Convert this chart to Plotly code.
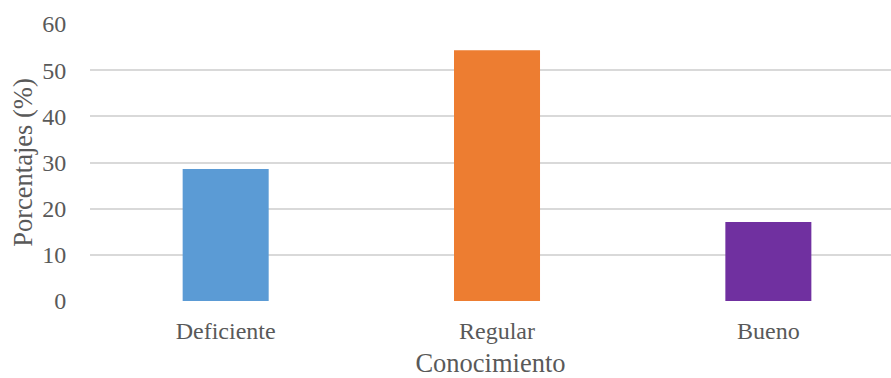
import plotly.graph_objects as go

# Categories and percentages
categorias = ["Deficiente", "Regular", "Bueno"]
porcentajes = [28.6, 54.3, 17.1]
colores = ["#5B9BD5", "#ED7D31", "#7030A0"]
y_ticks = [0, 10, 20, 30, 40, 50, 60]

TEXT = "#595959"
FONT = "Liberation Serif, Times New Roman, serif"

fig = go.Figure(
    go.Bar(
        x=categorias,
        y=porcentajes,
        marker=dict(color=colores, line=dict(width=0)),
        width=0.317,
        hoverinfo="x+y",
    )
)

fig.update_layout(
    width=891,
    height=378,
    margin=dict(l=89.5, r=0, t=24, b=76.5),
    paper_bgcolor="white",
    plot_bgcolor="white",
    showlegend=False,
    font=dict(family=FONT, color=TEXT, size=24),
)

fig.update_xaxes(
    range=[-0.5, 2.452],
    showgrid=False,
    showline=False,
    zeroline=False,
    ticks="outside",
    ticklen=8,
    tickcolor="rgba(0,0,0,0)",
    tickfont=dict(size=24, color=TEXT, family=FONT),
    title=dict(text="Conocimiento", font=dict(size=26.5, color=TEXT, family=FONT), standoff=15),
)

fig.update_yaxes(
    range=[0, 60],
    tickvals=y_ticks,
    showgrid=True,
    gridcolor="#D9D9D9",
    gridwidth=1.8,
    zeroline=False,
    showline=False,
    ticks="outside",
    ticklen=18,
    tickcolor="rgba(0,0,0,0)",
    tickfont=dict(size=24, color=TEXT, family=FONT),
    title=dict(text="Porcentajes (%)", font=dict(size=26.5, color=TEXT, family=FONT), standoff=1),
)

fig.write_html("out.html")
